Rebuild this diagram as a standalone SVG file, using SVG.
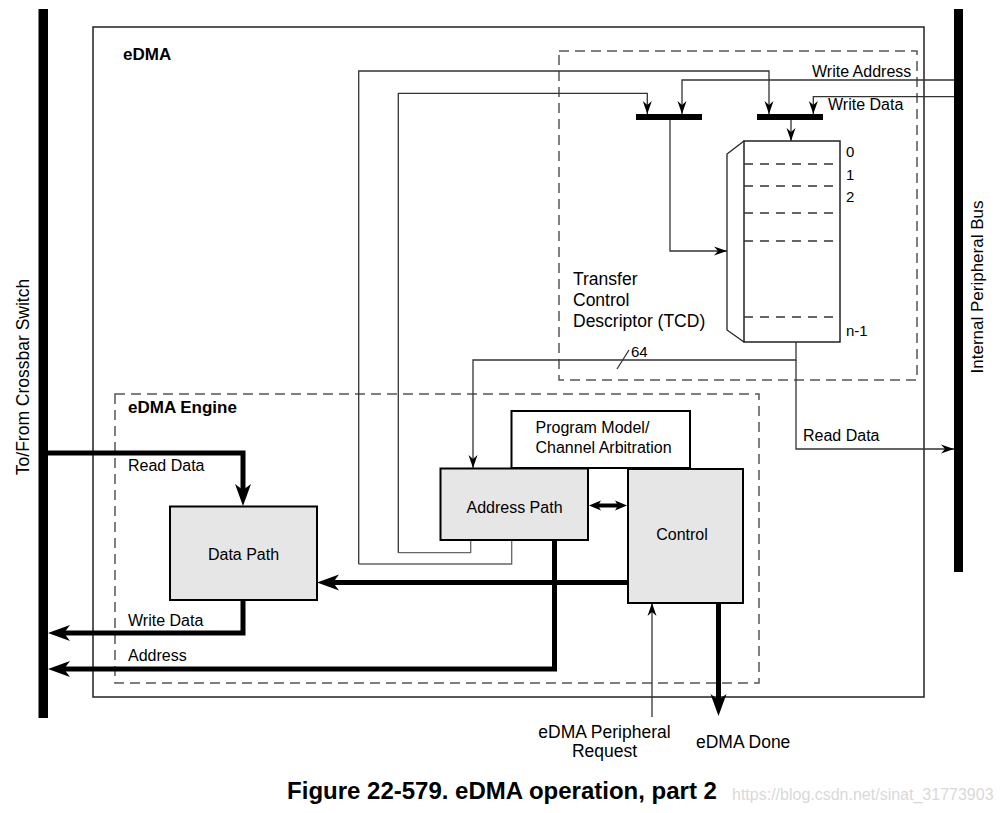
<svg xmlns="http://www.w3.org/2000/svg" width="1001" height="813" viewBox="0 0 1001 813">
<style>
text{font-family:"Liberation Sans",Arial,sans-serif;fill:#000}
.b{font-weight:bold}
.s16{font-size:16px}
.s17{font-size:17.5px}
.s15{font-size:15px}
.box{fill:#e6e6e6;stroke:#000;stroke-width:2}
.wbox{fill:#fff;stroke:#000;stroke-width:2}
.dash{fill:none;stroke:#555;stroke-width:1.5;stroke-dasharray:10 6}
.thin{fill:none;stroke:#333;stroke-width:1.3}
.gray{fill:none;stroke:#666;stroke-width:1.3}
.thick{fill:none;stroke:#000;stroke-width:5}
.dbl{fill:none;stroke:#000;stroke-width:4}
.bus{fill:#000}
.tdash{fill:none;stroke:#333;stroke-width:1.3;stroke-dasharray:9 7}
</style>
<defs>
<marker id="ta" viewBox="-14 -6 15 12" refX="0" refY="0" markerWidth="15" markerHeight="12" markerUnits="userSpaceOnUse" orient="auto">
<path d="M-13,-4.5 L0,0 L-13,4.5 L-9,0 z" fill="#000"/>
</marker>
<marker id="TA" viewBox="-11 -9 24 18" refX="0" refY="0" markerWidth="24" markerHeight="18" markerUnits="userSpaceOnUse" orient="auto">
<path d="M-10,-8 L12,0 L-10,8 L-4,0 z" fill="#000"/>
</marker>
<marker id="DA" viewBox="-5 -6 14 12" refX="0" refY="0" markerWidth="14" markerHeight="12" markerUnits="userSpaceOnUse" orient="auto-start-reverse">
<path d="M-4,-5 L8,0 L-4,5 L-1,0 z" fill="#000"/>
</marker>
</defs>

<!-- buses -->
<g id="crossbar-bus">
<rect class="bus" x="38.5" y="9" width="9.5" height="709"/>
<text class="s17" transform="translate(29,377) rotate(-90)" text-anchor="middle">To/From Crossbar Switch</text>
</g>
<g id="peripheral-bus">
<rect class="bus" x="954" y="9" width="9" height="563"/>
<text class="s17" transform="translate(983,287) rotate(-90)" text-anchor="middle" style="font-size:17px">Internal Peripheral Bus</text>
</g>

<!-- containers -->
<g id="edma">
<rect x="93" y="27" width="831" height="670" fill="none" stroke="#222" stroke-width="1.5"/>
<text class="b" x="123" y="60" style="font-size:17px">eDMA</text>
</g>
<g id="tcd-region">
<rect class="dash" x="559" y="51" width="358" height="329"/>
</g>
<g id="edma-engine">
<rect class="dash" x="115" y="394" width="644" height="289"/>
<text class="b" x="128" y="413" style="font-size:17px">eDMA Engine</text>
</g>

<!-- connectors -->
<g id="connectors">
<!-- address path to TCD muxes -->
<path class="gray" d="M511.7,540 V564 H358.7"/>
<path class="thin" d="M358.7,564 V71 H769 V114" marker-end="url(#ta)"/>
<path class="gray" d="M470.7,540 V552.7 H398.3"/>
<path class="thin" d="M398.3,552.7 V93.3 H647.3 V114" marker-end="url(#ta)"/>
<!-- write address / write data from bus -->
<path class="thin" d="M954,80 H682 V114" marker-end="url(#ta)"/>
<path class="thin" d="M954,96.7 H813.3 V114" marker-end="url(#ta)"/>
<!-- mux bars -->
<rect x="636" y="114" width="66" height="6" fill="#000"/>
<rect x="757" y="114" width="66" height="6" fill="#000"/>
<path class="thin" d="M791,120 V141" marker-end="url(#ta)"/>
<path class="thin" d="M670,120 V251 H727" marker-end="url(#ta)"/>
<!-- TCD output -->
<path class="thin" d="M796,342 V360 H473 V468" marker-end="url(#ta)"/>
<path class="thin" d="M617,369 L629,350"/>
<text class="s15" x="631" y="357">64</text>
<path class="thin" d="M796,360 V449 H954" marker-end="url(#ta)"/>
<text class="s16" x="803" y="441">Read Data</text>
<text class="s16" x="812" y="76.5">Write Address</text>
<text class="s16" x="828" y="110">Write Data</text>
<!-- thick data paths -->
<path class="thick" d="M48,453 H243 V494" marker-end="url(#TA)"/>
<text class="s16" x="128" y="471">Read Data</text>
<path class="thick" d="M243,600 V633 H60" marker-end="url(#TA)"/>
<text class="s16" x="128" y="625.5">Write Data</text>
<path class="thick" d="M554.5,540 V669 H60" marker-end="url(#TA)"/>
<text class="s16" x="128" y="661">Address</text>
<path class="thick" d="M628,582.5 H329" marker-end="url(#TA)"/>
<path class="dbl" d="M597,505.5 H619" marker-start="url(#DA)" marker-end="url(#DA)"/>
<path class="thick" d="M718.5,603 V704" marker-end="url(#TA)"/>
<path class="thin" d="M652,717 V603" marker-end="url(#ta)"/>
</g>

<!-- TCD -->
<g id="tcd">
<rect x="744" y="141" width="96" height="201" fill="#fff" stroke="#222" stroke-width="1.5"/>
<path d="M744,141 L727,154 V330 L744,342" fill="none" stroke="#222" stroke-width="1.3"/>
<path class="tdash" d="M744,164 H840 M744,186 H840 M744,213 H840 M744,241 H840 M744,317 H840"/>
<text class="s15" x="846" y="157">0</text>
<text class="s15" x="846" y="180">1</text>
<text class="s15" x="846" y="202">2</text>
<text class="s15" x="846" y="336">n-1</text>
<text class="s17" x="573" y="285">Transfer</text>
<text class="s17" x="573" y="306">Control</text>
<text class="s17" x="573" y="327">Descriptor (TCD)</text>
</g>

<!-- nodes -->
<g id="program-model">
<rect class="wbox" x="511.5" y="411" width="178.5" height="57"/>
<text class="s16" x="535.5" y="433">Program Model/</text>
<text class="s16" x="535.5" y="453">Channel Arbitration</text>
</g>
<g id="address-path">
<rect class="box" x="440.5" y="468.5" width="147.5" height="71.5"/>
<text class="s16" x="514.5" y="513" text-anchor="middle">Address Path</text>
</g>
<g id="control">
<rect class="box" x="628" y="469" width="115" height="134"/>
<text class="s16" x="682" y="540" text-anchor="middle">Control</text>
</g>
<g id="data-path">
<rect class="box" x="170" y="506.5" width="147" height="93.5"/>
<text class="s16" x="243.5" y="560" text-anchor="middle">Data Path</text>
</g>

<!-- external labels -->
<g id="peripheral-request">
<text class="s17" x="604.5" y="738" text-anchor="middle">eDMA Peripheral</text>
<text class="s17" x="604.5" y="757" text-anchor="middle">Request</text>
</g>
<g id="edma-done">
<text class="s17" x="696" y="748">eDMA Done</text>
</g>

<text class="b" x="502" y="799" text-anchor="middle" style="font-size:24px">Figure 22-579. eDMA operation, part 2</text>
<text x="732" y="800" style="font-size:16px;fill:#d9d9d9">https://blog.csdn.net/sinat_31773903</text>
</svg>
